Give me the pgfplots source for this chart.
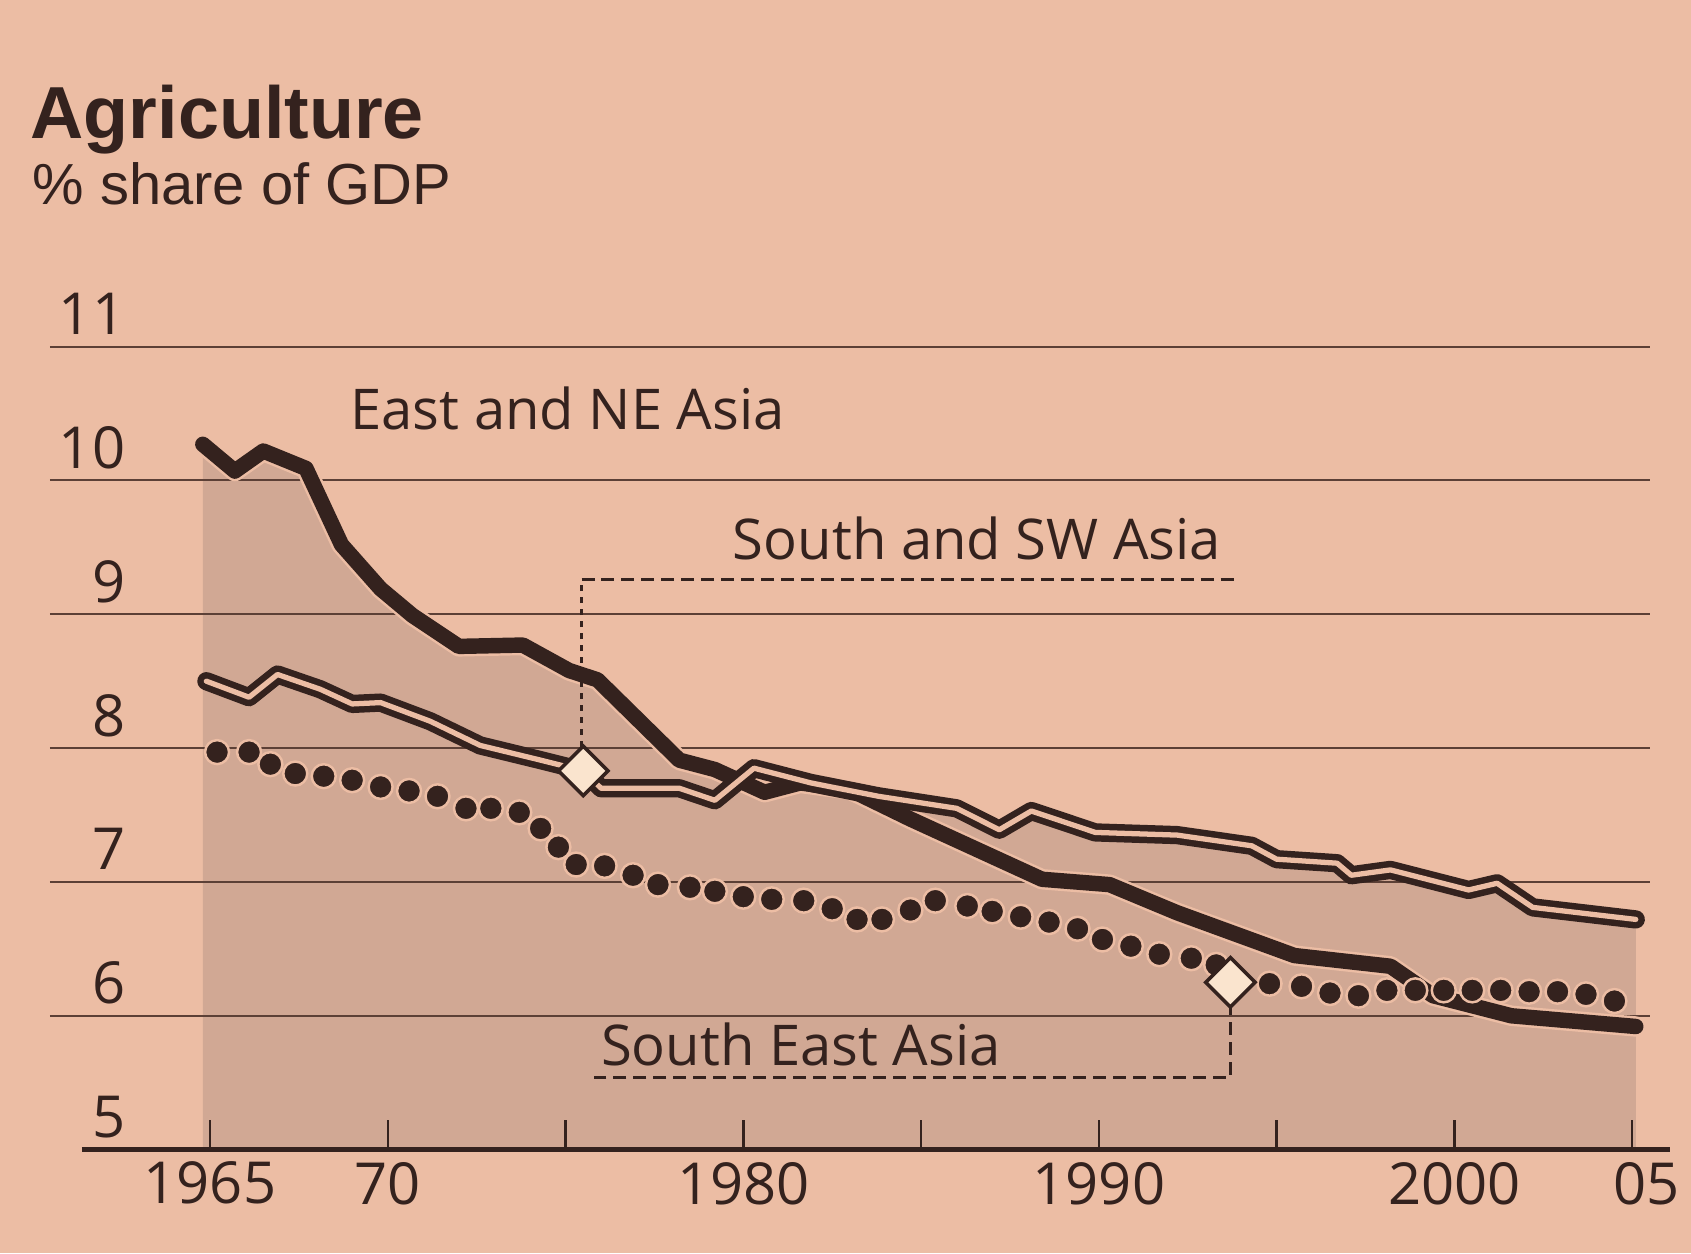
\documentclass[border=0pt]{standalone}
\usepackage{fontspec}
\setmainfont{Open Sans}
\newfontfamily\titlefont{Liberation Sans}
\usepackage{xcolor}
\usepackage{pgfplots}
\usepackage{pgfplotstable}
\pgfplotsset{compat=1.18}

\definecolor{paper}{RGB}{236,189,164}
\definecolor{stip}{RGB}{209,168,148}
\definecolor{ink}{RGB}{52,34,30}
\definecolor{gridc}{RGB}{92,64,54}
\definecolor{cream}{RGB}{250,228,206}
\pagecolor{paper}

% East and NE Asia
\pgfplotstableread{
year val
1964.8 10.27
1965.7 10.07
1966.5 10.22
1967.7 10.09
1968.7 9.52
1969.8 9.19
1970.7 8.99
1972.0 8.76
1973.8 8.77
1975.1 8.58
1975.9 8.51
1978.2 7.91
1979.2 7.84
1980.6 7.67
1981.6 7.74
1983.0 7.69
1984.7 7.47
1988.4 7.02
1990.3 6.98
1992.2 6.77
1995.5 6.45
1998.2 6.37
1999.4 6.15
2001.6 6.00
2005.1 5.92
}\neasia

% South and SW Asia
\pgfplotstableread{
year val
1964.9 8.50
1966.1 8.38
1966.9 8.55
1968.1 8.44
1969.0 8.33
1969.8 8.34
1971.2 8.20
1972.6 8.02
1974.3 7.91
1975.5 7.83
1976.0 7.70
1978.2 7.70
1979.2 7.61
1980.3 7.85
1981.9 7.74
1983.8 7.64
1986.0 7.55
1987.2 7.39
1988.1 7.53
1989.9 7.37
1992.2 7.35
1994.3 7.27
1995.0 7.17
1996.7 7.14
1997.1 7.05
1998.2 7.09
2000.4 6.94
2001.2 6.99
2002.2 6.81
2005.1 6.72
}\swasia

% South East Asia (dots)
\pgfplotstableread{
year val
1965.2 7.97
1966.1 7.97
1966.7 7.88
1967.4 7.81
1968.2 7.79
1969.0 7.76
1969.8 7.71
1970.6 7.68
1971.4 7.64
1972.2 7.55
1972.9 7.55
1973.7 7.52
1974.3 7.40
1974.8 7.26
1975.3 7.13
1976.1 7.12
1976.9 7.05
1977.6 6.98
1978.5 6.96
1979.2 6.93
1980.0 6.89
1980.8 6.87
1981.7 6.86
1982.5 6.80
1983.2 6.72
1983.9 6.72
1984.7 6.79
1985.4 6.86
1986.3 6.82
1987.0 6.78
1987.8 6.74
1988.6 6.70
1989.4 6.65
1990.1 6.57
1990.9 6.52
1991.7 6.46
1992.6 6.43
1993.3 6.38
1994.8 6.24
1995.7 6.22
1996.5 6.17
1997.3 6.15
1998.1 6.19
1998.9 6.19
1999.7 6.19
2000.5 6.19
2001.3 6.19
2002.1 6.18
2002.9 6.18
2003.7 6.16
2004.5 6.11
}\seasia

\begin{document}
\begin{tikzpicture}
\path (-5.0mm,-10.4mm) rectangle (164.1mm,115.1mm);
\node[anchor=base west, inner sep=0, text=ink,
  font=\titlefont\bfseries\fontsize{21}{24}\selectfont] at (-2.0mm,101.2mm) {Agriculture};
\node[anchor=base west, inner sep=0, text=ink,
  font=\titlefont\fontsize{16.5}{19}\selectfont] at (-1.8mm,94.6mm) {\% share of GDP};

\begin{axis}[
  scale only axis, width=160.2mm, height=80.4mm,
  xmin=1960.5, xmax=2005.5, ymin=5, ymax=11,
  set layers,
  axis x line*=bottom, axis y line*=left,
  y axis line style={draw=none},
  x axis line style={line width=1.3pt, color=ink, shorten <=3.2mm, shorten >=-2mm},
  xtick={1965,1970,...,2005},
  xticklabels={1965,70,,1980,,1990,,2000,\hspace{2.8mm}05},
  tick align=inside,
  major tick length=3mm,
  xtick style={color=ink, line width=0.7pt},
  ytick={6,...,11}, yticklabels={6,7,8,9,10,11},
  extra y ticks={5}, extra y tick labels={5},
  extra y tick style={grid=none, major tick length=0pt},
  ytick style={draw=none},
  ymajorgrids,
  major grid style={color=gridc, line width=0.6pt},
  yticklabel style={anchor=base east, inner sep=0pt, xshift=7.6mm, yshift=1.2mm},
  tick label style={font=\fontsize{16.5}{19}\selectfont, text=ink},
]
% stippled area under the upper envelope
\addplot[on layer=axis background, fill=stip, draw=none] table {\neasia} \closedcycle;
\addplot[on layer=axis background, fill=stip, draw=none] table {\swasia} \closedcycle;

% East and NE Asia
\addplot[color=paper, line width=5.8pt, line join=round, line cap=round] table {\neasia};
\addplot[color=ink, line width=4.4pt, line join=round, line cap=round] table {\neasia};

% South and SW Asia: dark line with a light core
\addplot[color=ink, line width=5.2pt, line join=round, line cap=round] table {\swasia};
\addplot[color=paper, line width=1.5pt, line join=round, line cap=round] table {\swasia};

% South East Asia
\addplot[only marks, mark=*, mark size=1.2mm,
  mark options={fill=ink, draw=paper, line width=0.7pt}] table {\seasia};

% label leaders
\addplot[color=ink, line width=0.7pt, dash pattern=on 0.6mm off 0.6mm]
  coordinates {(1975.45,7.83) (1975.45,9.26)};
\addplot[color=ink, line width=0.7pt, dash pattern=on 1.3mm off 0.7mm]
  coordinates {(1975.45,9.26) (1993.8,9.26)};
\addplot[color=ink, line width=0.7pt, dash pattern=on 1.3mm off 0.7mm]
  coordinates {(1993.7,6.25) (1993.7,5.54) (1975.8,5.54)};

% diamonds
\addplot[only marks, mark=square*, mark size=1.75mm,
  mark options={rotate=45, fill=cream, draw=ink, line width=1pt}]
  coordinates {(1975.5,7.83) (1993.7,6.25)};

\node[anchor=base west, inner sep=0, text=ink, font=\fontsize{16}{19}\selectfont]
  at (axis cs:1968.93,10.38) {East and NE Asia};
\node[anchor=base west, inner sep=0, text=ink, font=\fontsize{16}{19}\selectfont]
  at (axis cs:1979.69,9.41) {South and SW Asia};
\node[anchor=base west, inner sep=0, text=ink, font=\fontsize{16}{19}\selectfont]
  at (axis cs:1975.98,5.63) {South East Asia};
\end{axis}
\end{tikzpicture}
\end{document}
